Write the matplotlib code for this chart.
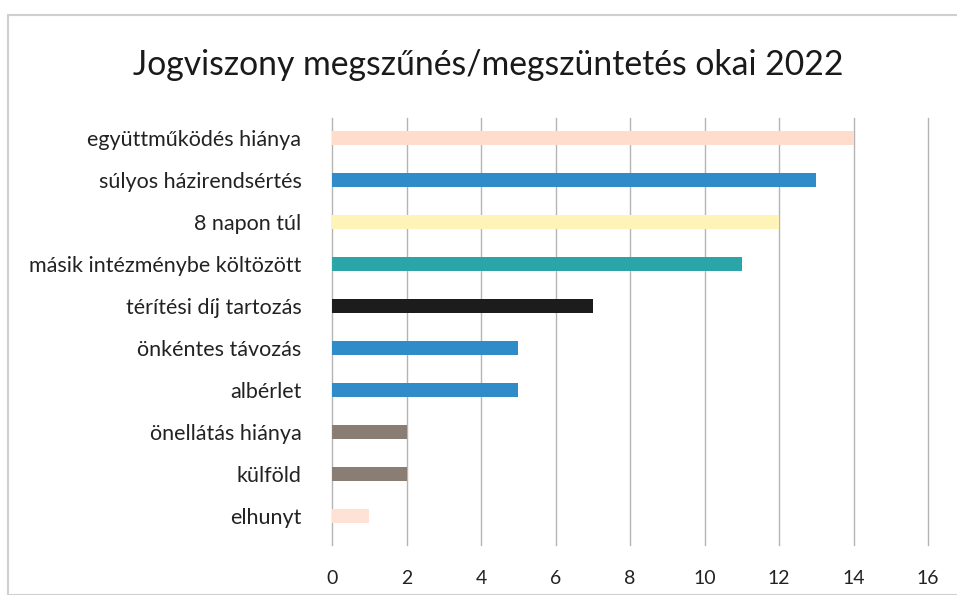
import matplotlib.pyplot as plt
from matplotlib.patches import Rectangle

plt.rcParams['font.family'] = ['Lato', 'DejaVu Sans']

# adatok (felülről lefelé)
categories = ['együttműködés hiánya', 'súlyos házirendsértés', '8 napon túl',
              'másik intézménybe költözött', 'térítési díj tartozás', 'önkéntes távozás',
              'albérlet', 'önellátás hiánya', 'külföld', 'elhunyt']
values = [14, 13, 12, 11, 7, 5, 5, 2, 2, 1]
colors = ['#FFDCCB', '#2F8CC9', '#FFF4B8', '#2BA6A8', '#1C1C1C', '#2F8CC9',
          '#2F8CC9', '#8A7D74', '#8A7D74', '#FFE2D6']
xticks = [0, 2, 4, 6, 8, 10, 12, 14, 16]

fig = plt.figure(figsize=(9.57, 5.95), dpi=100)
fig.patches.append(Rectangle((8/957, 0), 1, 1 - 15/595, transform=fig.transFigure,
                             fill=False, edgecolor='#CFCFCF', linewidth=1.5))

ax = fig.add_axes([332/957, 50/595, 596/957, 427/595])
ypos = list(range(len(categories)))[::-1]
ax.barh(ypos, values, height=0.34, color=colors, zorder=3)

ax.set_xlim(0, 16)
ax.set_ylim(-0.69, 9.48)
ax.set_xticks(xticks)
ax.set_xticklabels([str(t) for t in xticks])
ax.set_yticks(ypos)
ax.set_yticklabels(categories)
ax.grid(axis='x', color='#B4B4B4', linewidth=1.0, zorder=0)
for gl in ax.get_xgridlines():
    gl.set_clip_on(False)
for s in ax.spines.values():
    s.set_visible(False)
ax.tick_params(axis='both', length=0, colors='#222222')
ax.tick_params(axis='x', pad=18, labelsize=14)
ax.tick_params(axis='y', pad=22, labelsize=15.5)

fig.text(488/957, 1 - 65/595, 'Jogviszony megszűnés/megszüntetés okai 2022',
         ha='center', va='center', fontsize=24.3, color='#1A1A1A')

fig.savefig('out.png', dpi=100)
